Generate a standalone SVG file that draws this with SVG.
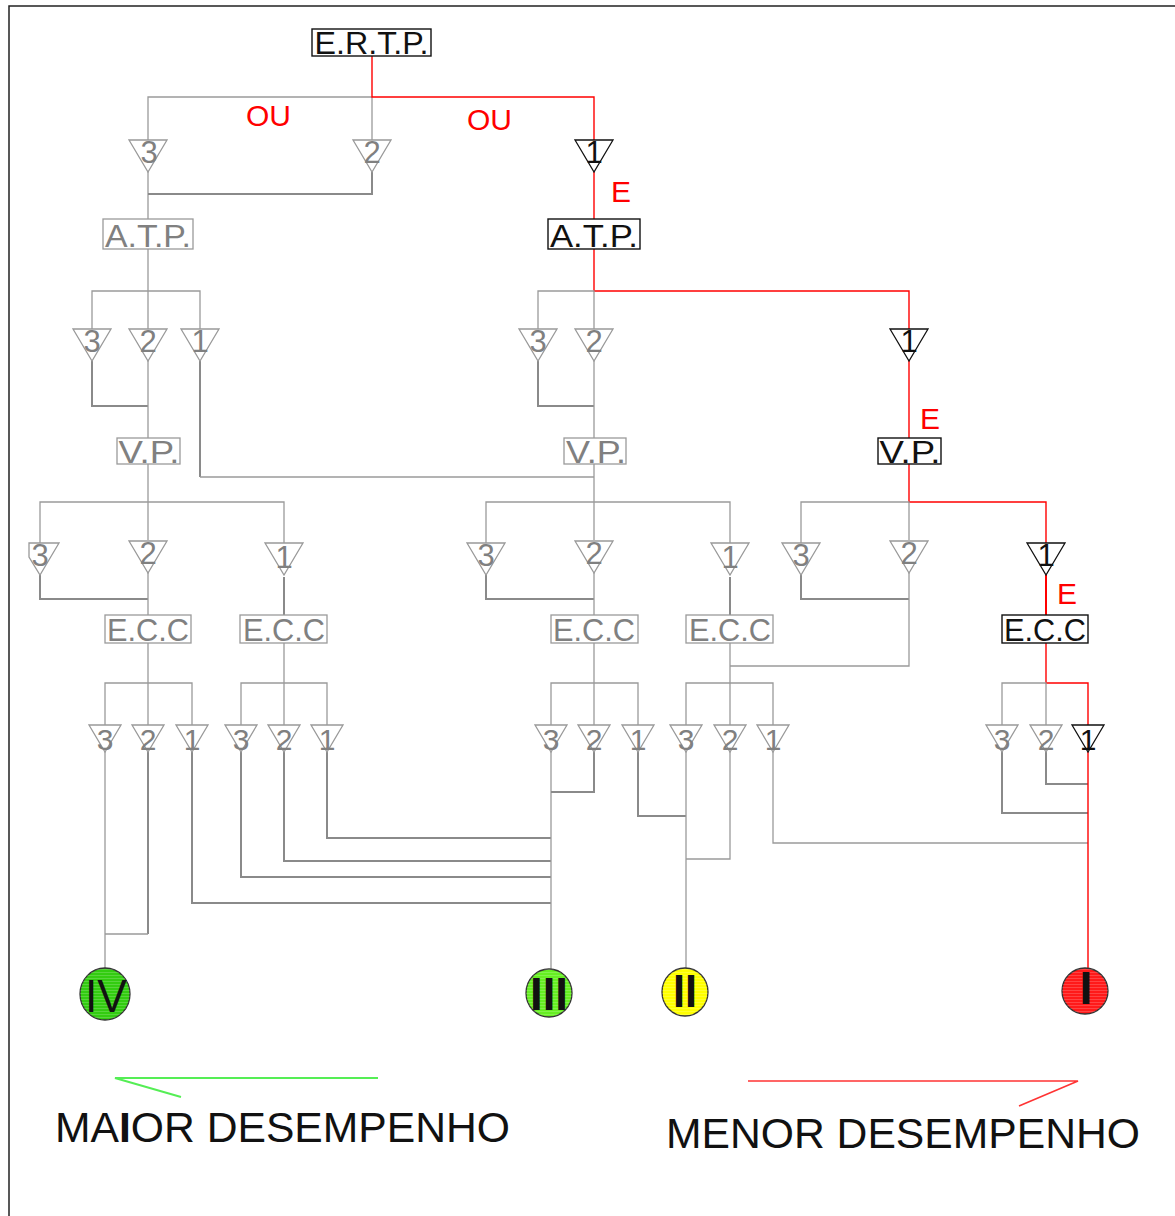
<svg xmlns="http://www.w3.org/2000/svg" width="1175" height="1216" viewBox="0 0 1175 1216">
<style>
.c{fill:none;stroke:#9a9a9a;stroke-width:1.3}
.t{fill:none;stroke:#8a8a8a;stroke-width:2}
.r{fill:none;stroke:#ff0000;stroke-width:1.4}
.rt{fill:none;stroke:#ff0000;stroke-width:2}
.tg{fill:#fff;stroke:#999;stroke-width:1.3}
.tk{fill:#fff;stroke:#111;stroke-width:1.3}
.bg{fill:#fff;stroke:#9a9a9a;stroke-width:1.3}
.bk{fill:#fff;stroke:#111;stroke-width:1.4}
.lbl{font-family:"Liberation Sans",Arial,sans-serif;text-anchor:middle}
.gt{fill:#808080}
.kt{fill:#111}
.red{font-family:"Liberation Sans",Arial,sans-serif;fill:#ff0000;font-size:30px}
.num{font-family:"Liberation Sans",Arial,sans-serif;text-anchor:middle;fill:#111;font-size:46px}
.big{font-family:"Liberation Sans",Arial,sans-serif;fill:#111;font-size:43px}
.circ{stroke:#333;stroke-width:1.3}
</style>
<defs>
<polygon id="tri" points="-19,0 19,0 0,32"/>
<polygon id="tris" points="-16,0 16,0 0,27"/>
<pattern id="hatch" width="6" height="3" patternUnits="userSpaceOnUse">
<rect width="6" height="1" fill="#ffffff" fill-opacity="0.18"/>
</pattern>
</defs>

<path d="M9,1216 V6 H1175" fill="none" stroke="#222" stroke-width="1.5"/>

<g id="connectors">
<!-- level 1 -->
<path class="c" d="M148,140 V97 H372 V140"/>
<path class="c" d="M148,172 V219"/>
<path class="t" d="M372,172 V194 H148"/>
<path class="r" d="M372,56 V97 H594 V140"/>
<path class="r" d="M594,172 V219"/>
<!-- level 2 left -->
<path class="c" d="M148,249 V329"/>
<path class="c" d="M92,329 V291 H200 V329"/>
<path class="t" d="M92,361 V406 H148"/>
<path class="c" d="M148,361 V438"/>
<path class="t" d="M200,361 V477"/>
<path class="c" d="M200,477 H594"/>
<!-- level 2 right -->
<path class="r" d="M594,249 V291 H909 V329"/>
<path class="c" d="M538,329 V291 H594 V329"/>
<path class="t" d="M538,361 V406 H594"/>
<path class="c" d="M594,361 V438"/>
<path class="r" d="M909,361 V438"/>
<!-- level 3 left -->
<path class="c" d="M148,464 V540"/>
<path class="c" d="M40,543 V502 H284 V543"/>
<path class="t" d="M40,575 V599 H148"/>
<path class="c" d="M148,573 V615"/>
<path class="t" d="M284,577 V615"/>
<!-- level 3 middle -->
<path class="c" d="M594,464 V540"/>
<path class="c" d="M486,543 V502 H730 V543"/>
<path class="t" d="M486,575 V599 H594"/>
<path class="c" d="M594,573 V615"/>
<path class="t" d="M730,577 V615"/>
<!-- level 3 right -->
<path class="r" d="M909,464 V502 H1046 V543"/>
<path class="c" d="M801,543 V502 H909 V540"/>
<path class="t" d="M801,575 V599 H909"/>
<path class="c" d="M909,573 V666 H730"/>
<path class="rt" d="M1046,575 V615"/>
<!-- level 4 -->
<path class="c" d="M148,643 V725 M105,725 V683 H192 V725"/>
<path class="c" d="M284,643 V725 M241,725 V683 H327 V725"/>
<path class="c" d="M594,643 V725 M551,725 V683 H638 V725"/>
<path class="c" d="M730,643 V725 M686,725 V683 H773 V725"/>
<path class="r" d="M1046,643 V683 H1088 V725"/>
<path class="c" d="M1002,725 V683 H1046 V725"/>
<!-- bottom wiring -->
<path class="c" d="M105,752 V969"/>
<path class="t" d="M148,752 V934"/>
<path class="c" d="M148,934 H105"/>
<path class="t" d="M192,752 V903 H551"/>
<path class="t" d="M241,752 V877 H551"/>
<path class="t" d="M284,752 V861 H551"/>
<path class="t" d="M327,752 V838 H551"/>
<path class="c" d="M551,752 V970"/>
<path class="t" d="M594,752 V792 H551"/>
<path class="t" d="M638,752 V816 H686"/>
<path class="c" d="M686,752 V968"/>
<path class="c" d="M730,752 V859 H686"/>
<path class="c" d="M773,752 V843 H1088"/>
<path class="t" d="M1046,752 V784 H1088"/>
<path class="t" d="M1002,752 V813 H1088"/>
<path class="r" d="M1088,752 V968"/>
</g>

<g id="labels-red">
<text class="red" x="246" y="126">OU</text>
<text class="red" x="467" y="130">OU</text>
<text class="red" x="611" y="202">E</text>
<text class="red" x="920" y="429">E</text>
<text class="red" x="1057" y="604">E</text>
</g>

<!-- boxes -->
<g id="ertp"><rect class="bk" x="312" y="29" width="119" height="27"/><text class="lbl kt" x="371.5" y="54" font-size="31" textLength="114" lengthAdjust="spacingAndGlyphs">E.R.T.P.</text></g>
<g id="atp-l"><rect class="bg" x="103" y="219" width="90" height="30"/><text class="lbl gt" x="148" y="247" font-size="32" textLength="86" lengthAdjust="spacingAndGlyphs">A.T.P.</text></g>
<g id="atp-r"><rect class="bk" x="548" y="219" width="92" height="30"/><text class="lbl kt" x="594" y="247" font-size="32" textLength="88" lengthAdjust="spacingAndGlyphs">A.T.P.</text></g>
<g id="vp-l"><rect class="bg" x="117" y="438" width="63" height="26"/><text class="lbl gt" x="149" y="463" font-size="32" textLength="61" lengthAdjust="spacingAndGlyphs">V.P.</text></g>
<g id="vp-m"><rect class="bg" x="564" y="438" width="62" height="26"/><text class="lbl gt" x="596" y="463" font-size="32" textLength="60" lengthAdjust="spacingAndGlyphs">V.P.</text></g>
<g id="vp-r"><rect class="bk" x="878" y="438" width="63" height="26"/><text class="lbl kt" x="910" y="463" font-size="32" textLength="61" lengthAdjust="spacingAndGlyphs">V.P.</text></g>
<g id="ecc-1"><rect class="bg" x="105" y="615" width="86" height="28"/><text class="lbl gt" x="148" y="641" font-size="31" textLength="82" lengthAdjust="spacingAndGlyphs">E.C.C</text></g>
<g id="ecc-2"><rect class="bg" x="240" y="615" width="87" height="28"/><text class="lbl gt" x="284" y="641" font-size="31" textLength="82" lengthAdjust="spacingAndGlyphs">E.C.C</text></g>
<g id="ecc-3"><rect class="bg" x="551" y="615" width="87" height="28"/><text class="lbl gt" x="594" y="641" font-size="31" textLength="82" lengthAdjust="spacingAndGlyphs">E.C.C</text></g>
<g id="ecc-4"><rect class="bg" x="686" y="615" width="87" height="28"/><text class="lbl gt" x="730" y="641" font-size="31" textLength="82" lengthAdjust="spacingAndGlyphs">E.C.C</text></g>
<g id="ecc-5"><rect class="bk" x="1002" y="615" width="86" height="28"/><text class="lbl kt" x="1045" y="641" font-size="31" textLength="82" lengthAdjust="spacingAndGlyphs">E.C.C</text></g>

<!-- triangles level 1 -->
<g id="t1-3"><use href="#tri" class="tg" x="148" y="140"/><text class="lbl gt" x="149" y="163" font-size="31">3</text></g>
<g id="t1-2"><use href="#tri" class="tg" x="372" y="140"/><text class="lbl gt" x="372" y="163" font-size="31">2</text></g>
<g id="t1-1"><use href="#tri" class="tk" x="594" y="140"/><text class="lbl kt" x="594" y="163" font-size="31">1</text></g>
<!-- level 2 -->
<g id="t2-3a"><use href="#tri" class="tg" x="92" y="329"/><text class="lbl gt" x="92" y="352" font-size="31">3</text></g>
<g id="t2-2a"><use href="#tri" class="tg" x="148" y="329"/><text class="lbl gt" x="148" y="352" font-size="31">2</text></g>
<g id="t2-1a"><use href="#tri" class="tg" x="200" y="329"/><text class="lbl gt" x="200" y="352" font-size="31">1</text></g>
<g id="t2-3b"><use href="#tri" class="tg" x="538" y="329"/><text class="lbl gt" x="538" y="352" font-size="31">3</text></g>
<g id="t2-2b"><use href="#tri" class="tg" x="594" y="329"/><text class="lbl gt" x="594" y="352" font-size="31">2</text></g>
<g id="t2-1b"><use href="#tri" class="tk" x="909" y="329"/><text class="lbl kt" x="909" y="352" font-size="31">1</text></g>
<!-- level 3 -->
<g id="t3-3a"><polygon class="tg" points="29,543 59,543 40,575 29,557"/><text class="lbl gt" x="40" y="566" font-size="31">3</text></g>
<g id="t3-2a"><use href="#tri" class="tg" x="148" y="541"/><text class="lbl gt" x="148" y="564" font-size="31">2</text></g>
<g id="t3-1a"><use href="#tri" class="tg" x="284" y="543"/><text class="lbl gt" x="284" y="568" font-size="31">1</text></g>
<g id="t3-3b"><use href="#tri" class="tg" x="486" y="543"/><text class="lbl gt" x="486" y="566" font-size="31">3</text></g>
<g id="t3-2b"><use href="#tri" class="tg" x="594" y="541"/><text class="lbl gt" x="594" y="564" font-size="31">2</text></g>
<g id="t3-1b"><use href="#tri" class="tg" x="730" y="543"/><text class="lbl gt" x="730" y="568" font-size="31">1</text></g>
<g id="t3-3c"><use href="#tri" class="tg" x="801" y="543"/><text class="lbl gt" x="801" y="566" font-size="31">3</text></g>
<g id="t3-2c"><use href="#tri" class="tg" x="909" y="541"/><text class="lbl gt" x="909" y="564" font-size="31">2</text></g>
<g id="t3-1c"><use href="#tri" class="tk" x="1046" y="543"/><text class="lbl kt" x="1046" y="566" font-size="31">1</text></g>
<!-- level 4 -->
<g id="t4-a3"><use href="#tris" class="tg" x="105" y="725"/><text class="lbl gt" x="105" y="750" font-size="30">3</text></g>
<g id="t4-a2"><use href="#tris" class="tg" x="148" y="725"/><text class="lbl gt" x="148" y="750" font-size="30">2</text></g>
<g id="t4-a1"><use href="#tris" class="tg" x="192" y="725"/><text class="lbl gt" x="192" y="750" font-size="30">1</text></g>
<g id="t4-b3"><use href="#tris" class="tg" x="241" y="725"/><text class="lbl gt" x="241" y="750" font-size="30">3</text></g>
<g id="t4-b2"><use href="#tris" class="tg" x="284" y="725"/><text class="lbl gt" x="284" y="750" font-size="30">2</text></g>
<g id="t4-b1"><use href="#tris" class="tg" x="327" y="725"/><text class="lbl gt" x="327" y="750" font-size="30">1</text></g>
<g id="t4-c3"><use href="#tris" class="tg" x="551" y="725"/><text class="lbl gt" x="551" y="750" font-size="30">3</text></g>
<g id="t4-c2"><use href="#tris" class="tg" x="594" y="725"/><text class="lbl gt" x="594" y="750" font-size="30">2</text></g>
<g id="t4-c1"><use href="#tris" class="tg" x="638" y="725"/><text class="lbl gt" x="638" y="750" font-size="30">1</text></g>
<g id="t4-d3"><use href="#tris" class="tg" x="686" y="725"/><text class="lbl gt" x="686" y="750" font-size="30">3</text></g>
<g id="t4-d2"><use href="#tris" class="tg" x="730" y="725"/><text class="lbl gt" x="730" y="750" font-size="30">2</text></g>
<g id="t4-d1"><use href="#tris" class="tg" x="773" y="725"/><text class="lbl gt" x="773" y="750" font-size="30">1</text></g>
<g id="t4-e3"><use href="#tris" class="tg" x="1002" y="725"/><text class="lbl gt" x="1002" y="750" font-size="30">3</text></g>
<g id="t4-e2"><use href="#tris" class="tg" x="1046" y="725"/><text class="lbl gt" x="1046" y="750" font-size="30">2</text></g>
<g id="t4-e1"><use href="#tris" class="tk" x="1088" y="725"/><text class="lbl kt" x="1088" y="750" font-size="30">1</text></g>

<!-- result circles -->
<g id="res-IV"><ellipse class="circ" cx="105" cy="994" rx="25" ry="26" fill="#33cc11"/><ellipse cx="105" cy="994" rx="25" ry="26" fill="url(#hatch)"/><text class="num" x="106" y="1012" textLength="42" lengthAdjust="spacingAndGlyphs">IV</text></g>
<g id="res-III"><ellipse class="circ" cx="549" cy="993" rx="23" ry="24" fill="#66ee22"/><ellipse cx="549" cy="993" rx="23" ry="24" fill="url(#hatch)"/><text class="num" x="549" y="1010" font-weight="bold" textLength="38" lengthAdjust="spacingAndGlyphs">III</text></g>
<g id="res-II"><ellipse class="circ" cx="685" cy="992" rx="23" ry="24" fill="#ffff00"/><ellipse cx="685" cy="992" rx="23" ry="24" fill="url(#hatch)"/><text class="num" x="685" y="1007" font-size="42" font-weight="bold" textLength="24" lengthAdjust="spacingAndGlyphs">II</text></g>
<g id="res-I"><ellipse class="circ" cx="1085" cy="991" rx="23" ry="23" fill="#ff1a1a"/><ellipse cx="1085" cy="991" rx="23" ry="23" fill="url(#hatch)"/><text class="num" x="1086" y="1004" font-size="40" font-weight="bold">I</text></g>

<!-- legend -->
<g id="legend-maior">
<path d="M378,1078 H115 L181,1097" fill="none" stroke="#55ee55" stroke-width="2"/>
<text class="big" x="55" y="1142" textLength="455" lengthAdjust="spacingAndGlyphs">MA<tspan font-weight="bold">I</tspan>OR DESEMPENHO</text>
</g>
<g id="legend-menor">
<path d="M748,1081 H1078 L1019,1106" fill="none" stroke="#ff3333" stroke-width="1.6"/>
<text class="big" x="666" y="1148" textLength="474" lengthAdjust="spacingAndGlyphs">MENOR DESEMPENHO</text>
</g>
</svg>
